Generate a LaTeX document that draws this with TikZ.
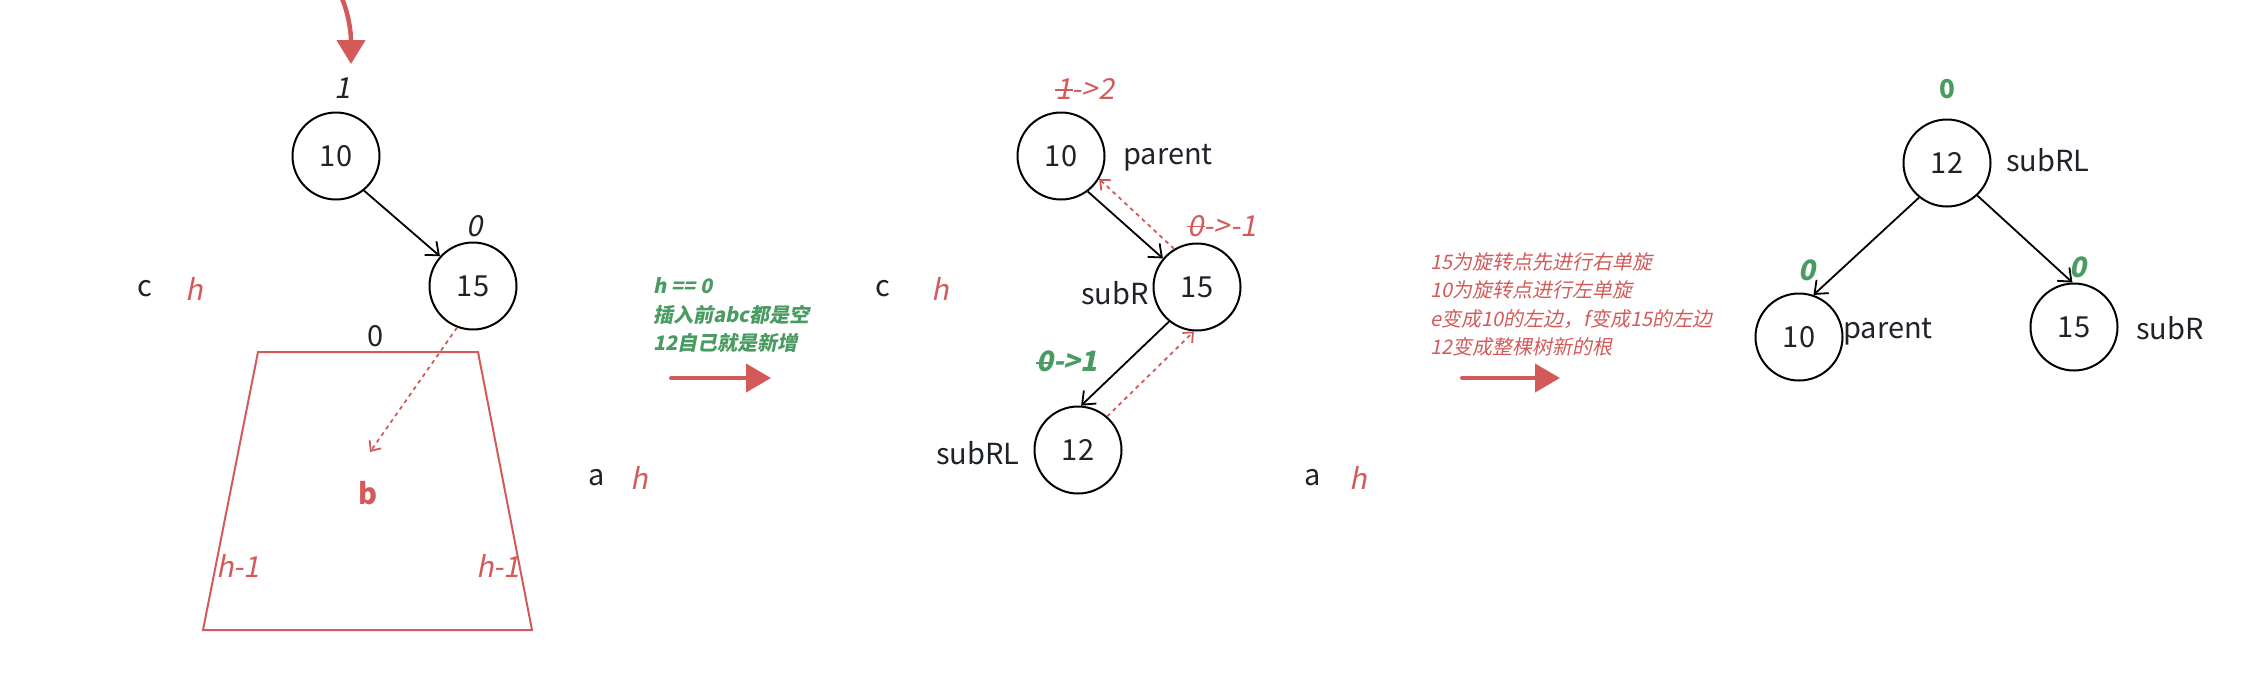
\documentclass[tikz,border=0pt]{standalone}
\usepackage{fontspec}
\setmainfont{Noto Sans CJK SC}[AutoFakeSlant=0.2, BoldItalicFont={Noto Sans CJK SC/B}, BoldItalicFeatures={FakeSlant=0.2}]
\usetikzlibrary{arrows.meta}
\definecolor{myred}{RGB}{212,90,90}
\definecolor{mygreen}{RGB}{74,155,98}
\definecolor{ink}{RGB}{31,35,41}
\newcommand{\stk}[1]{\ooalign{\hidewidth\rule[0.3em]{0.6em}{0.06em}\hidewidth\cr#1\cr}}
\begin{document}
\begin{tikzpicture}[x=0.5pt,y=-0.5pt,
  font=\fontsize{14.5pt}{17pt}\selectfont,
  tnode/.style={circle, draw=black, line width=1pt, minimum size=43.5pt, inner sep=0pt, text=ink},
  lbl/.style={inner sep=0pt, text=ink},
  rlbl/.style={inner sep=0pt, text=myred, font=\fontsize{14.5pt}{17pt}\selectfont\itshape},
  blbl/.style={inner sep=0pt, text=ink, font=\fontsize{14.5pt}{17pt}\selectfont\itshape},
  glbl/.style={inner sep=0pt, text=mygreen, font=\fontsize{14pt}{17pt}\selectfont\bfseries\itshape},
  edge/.style={-{Straight Barb[length=5.5pt,width=9pt]}, line width=0.9pt, black},
  dotarr/.style={-{Straight Barb[length=4pt,width=7pt]}, line width=0.9pt, myred, dash pattern=on 2pt off 2pt},
  bigarr/.style={-{Triangle[length=12.5pt,width=14pt]}, line width=2pt, myred, line cap=round},
]
\useasboundingbox (0,0) rectangle (2260,676);

% ---------- panel 1 ----------
\coordinate (topstart) at (341,-4);
\coordinate (toptip) at (351,64);
\draw[-{Triangle[length=12pt,width=14pt]}, line width=2.25pt, myred]
  (topstart) .. controls (348,12) and (351,30) .. (toptip);
\node[blbl] (bal1a) at (343,88) {1};
\node[tnode] (p1a) at (336,156) {10};
\node[blbl] (bal1b) at (475,226) {0};
\node[tnode] (p1b) at (473,286) {15};
\draw[edge] (p1a.309) -- (p1b.138);
\node[lbl] (c1) at (145,289) {c};
\node[rlbl] (h1c) at (194,289) {h};
\node[lbl] (zero1) at (376,336) {0};
\draw[myred, line width=1pt] (258,352) -- (478,352) -- (532,630) -- (203,630) -- cycle;
\coordinate (bend) at (370,452);
\draw[dotarr] (p1b.249) -- (bend);
\node[inner sep=0pt, text=myred, font=\fontsize{14.5pt}{17pt}\selectfont\bfseries] (b1) at (368,493) {b};
\node[rlbl] (hl1) at (238,566) {h-1};
\node[rlbl] (hr1) at (498,566) {h-1};
\node[lbl] (a1) at (597,478) {a};
\node[rlbl] (h1a) at (639,478) {h};

% ---------- note 1 ----------
\node[inner sep=0pt, anchor=west, align=left, text=mygreen,
  font=\fontsize{10pt}{14.4pt}\selectfont\bfseries\itshape] (note1) at (653,315)
  {h == 0\\插入前abc都是空\\12自己就是新增};
\coordinate (ar1s) at (671,378);
\coordinate (ar1e) at (771,378);
\draw[bigarr] (ar1s) -- (ar1e);

% ---------- panel 2 ----------
\node[rlbl] (bal2a) at (1085,89) {\stk{1}->2};
\node[tnode] (q10) at (1061,156) {10};
\node[lbl] (par2) at (1168,158) {parent};
\node[rlbl] (bal2b) at (1222,226) {\stk{0}->-1};
\node[tnode] (q15) at (1197,287) {15};
\node[lbl] (subR2) at (1115,293) {subR};
\node[lbl] (c2) at (883,289) {c};
\node[rlbl] (h2c) at (940,289) {h};
\node[glbl] (bal2c) at (1067,362) {\stk{0}->1};
\node[tnode] (q12) at (1078,450) {12};
\node[lbl] (subRL2) at (978,453) {subRL};
\node[lbl] (a2) at (1313,478) {a};
\node[rlbl] (h2a) at (1358,478) {h};
\draw[edge] (q10.307) -- (q15.140);
\draw[dotarr] (q15.121) -- (q10.329);
\draw[edge] (q15.231) -- (q12.86);
\draw[dotarr] (q12.49) -- (q15.266);

% ---------- note 2 ----------
\node[inner sep=0pt, anchor=west, align=left, text=myred,
  font=\fontsize{10pt}{14.25pt}\selectfont\itshape] (note2) at (1430,304.5)
  {15为旋转点先进行右单旋\\10为旋转点进行左单旋\\e变成10的左边，f变成15的左边\\12变成整棵树新的根};
\coordinate (ar2s) at (1462,378);
\coordinate (ar2e) at (1560,378);
\draw[bigarr] (ar2s) -- (ar2e);

% ---------- panel 3 ----------
\node[inner sep=0pt, text=mygreen, font=\fontsize{13pt}{16pt}\selectfont\bfseries] (bal3a) at (1947,89) {0};
\node[tnode] (r12) at (1947,163) {12};
\node[lbl] (subRL3) at (2048,160) {subRL};
\node[glbl] (bal3b) at (1807,270) {0};
\node[glbl] (bal3c) at (2078,267) {0};
\node[tnode] (r10) at (1799,337) {10};
\node[lbl] (par3) at (1888,332) {parent};
\node[tnode] (r15) at (2074,327) {15};
\node[lbl] (subR3) at (2170,328) {subR};
\draw[edge] (r12.231) -- (r10.71);
\draw[edge] (r12.313) -- (r15.92);
\end{tikzpicture}
\end{document}
